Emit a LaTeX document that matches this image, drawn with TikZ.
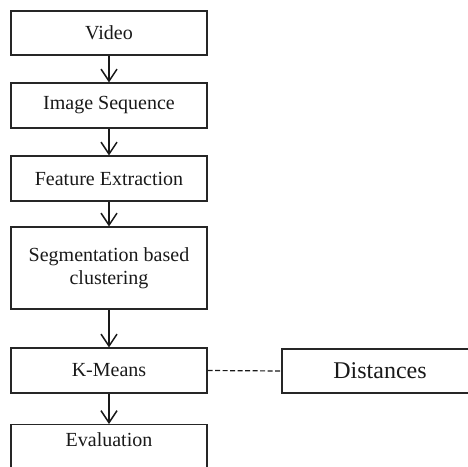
\documentclass[tikz,border=0pt]{standalone}
\usepackage{fontspec}
\setmainfont{Liberation Serif}
\usetikzlibrary{arrows.meta}
\begin{document}
\begin{tikzpicture}[x=1pt,y=-1pt,
  box/.style={draw=black!85, line width=1.1pt, rectangle, minimum width=196pt, inner sep=0pt, align=center, font=\fontsize{20}{23}\selectfont, text=black!90},
  flow/.style={draw=black!90, line width=1.1pt, -{Straight Barb[length=12pt,width=16pt,line width=1.5pt]}},
  link/.style={draw=black!90, line width=1.2pt, dash pattern=on 5pt off 2.5pt}]
\useasboundingbox (0,0) rectangle (468,466);
\node[box, minimum height=44pt] (video) at (109,33) {Video};
\node[box, minimum height=45pt] (imgseq) at (109,105.5) {Image Sequence};
\node[box, minimum height=45pt] (feat) at (109,178.5) {Feature Extraction};
\node[box, minimum height=82pt] (seg) at (109,268) {Segmentation based\\clustering};
\node[box, minimum height=45pt] (kmeans) at (109,370.5) {K-Means};
\node[box, anchor=north, inner ysep=7pt, text height=15pt, text depth=24pt] (eval) at (109,424) {Evaluation};
\node[box, minimum height=44pt, font=\fontsize{24}{28}\selectfont] (dist) at (380,371) {Distances};
\draw[flow] (video) -- (imgseq);
\draw[flow] (imgseq) -- (feat);
\draw[flow] (feat) -- (seg);
\draw[flow] (seg) -- (kmeans);
\draw[flow] (kmeans) -- (eval);
\draw[link] (kmeans.east) -- (dist.west);
\end{tikzpicture}
\end{document}
